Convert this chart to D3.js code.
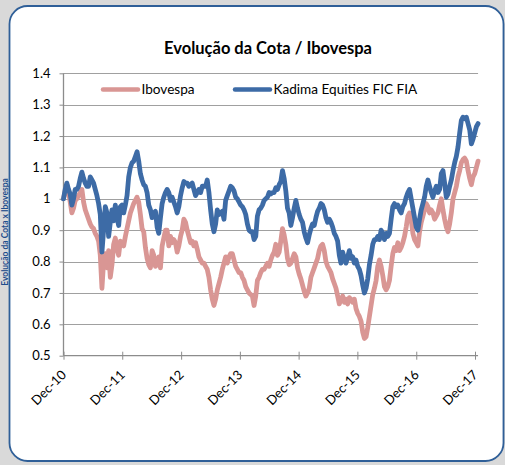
<!DOCTYPE html>
<html>
<head>
<meta charset="utf-8">
<script src="https://cdn.jsdelivr.net/npm/d3@7"></script>
<style>
  body { margin: 0; background: #d9d9d9; }
  svg { display: block; font-family: Lato, "Open Sans", sans-serif; }
</style>
</head>
<body>
<svg></svg>
<script>
// Kadima Equities FIC FIA vs Ibovespa, base 1.0 in Dec-10 (about 3 readings per month)
const kadima = [
  1.00, 1.03, 1.05, 1.03, 1.015, 0.98, 1.00, 1.03, 1.03, 1.04,
  1.065, 1.085, 1.065, 1.05, 1.04, 1.04, 1.07, 1.06, 1.05, 1.03,
  1.01, 0.985, 0.95, 0.83, 0.90, 0.975, 0.955, 0.88, 0.925, 0.965,
  0.93, 0.98, 0.94, 0.915, 0.975, 0.98, 0.955, 0.98, 1.01, 1.07,
  1.10, 1.115, 1.12, 1.135, 1.15, 1.12, 1.08, 1.06, 1.045, 1.04,
  1.02, 0.98, 0.965, 0.94, 0.955, 0.96, 0.91, 0.89, 0.94, 0.985,
  1.005, 1.02, 1.03, 1.02, 0.995, 1.005, 0.99, 0.975, 0.955, 0.975,
  1.01, 1.035, 1.055, 1.05, 1.05, 1.04, 1.045, 1.05, 1.03, 1.01,
  1.02, 1.03, 1.02, 1.04, 1.04, 1.04, 1.06, 1.02, 0.965, 0.92,
  0.895, 0.92, 0.965, 0.95, 0.955, 0.96, 0.935, 0.995, 1.01, 1.025,
  1.04, 1.035, 1.025, 1.005, 1.0, 0.99, 0.98, 0.975, 0.965, 0.95,
  0.92, 0.9, 0.895, 0.895, 0.87, 0.88, 0.945, 0.965, 0.97, 0.98,
  0.995, 1.0, 1.005, 1.02, 1.015, 1.02, 1.02, 1.035, 1.03, 1.045,
  1.055, 1.09, 1.065, 1.025, 0.97, 0.955, 0.915, 0.94, 0.97, 0.995,
  0.97, 0.95, 0.935, 0.925, 0.895, 0.875, 0.86, 0.885, 0.905, 0.92,
  0.915, 0.94, 0.96, 0.97, 0.985, 0.98, 0.965, 0.94, 0.925, 0.935,
  0.925, 0.91, 0.89, 0.88, 0.865, 0.82, 0.795, 0.83, 0.81, 0.795,
  0.815, 0.835, 0.81, 0.815, 0.795, 0.805, 0.785, 0.775, 0.755, 0.725,
  0.70, 0.715, 0.745, 0.79, 0.82, 0.855, 0.87, 0.87, 0.88, 0.87,
  0.9, 0.89, 0.87, 0.89, 0.88, 0.89, 0.935, 0.975, 0.985, 0.975,
  0.98, 0.965, 0.955, 0.975, 0.985, 1.005, 1.02, 1.03, 1.0, 0.97,
  0.94, 0.91, 0.90, 0.935, 0.965, 0.985, 1.005, 1.04, 1.06, 1.04,
  1.02, 1.005, 1.025, 1.04, 1.02, 1.03, 1.08, 1.09, 1.05, 1.005,
  1.015, 1.04, 1.06, 1.09, 1.115, 1.135, 1.165, 1.21, 1.25, 1.26,
  1.255, 1.26, 1.24, 1.22, 1.175, 1.19, 1.21, 1.23, 1.24
];

const ibovespa = [
  1.0, 1.025, 1.045, 1.02, 0.99, 0.955, 0.97, 0.995, 1.0, 1.01,
  1.02, 1.03, 0.99, 0.965, 0.95, 0.935, 0.92, 0.91, 0.905, 0.89,
  0.88, 0.865, 0.82, 0.715, 0.80, 0.825, 0.78, 0.835, 0.75, 0.79,
  0.855, 0.875, 0.84, 0.82, 0.865, 0.86, 0.85, 0.88, 0.905, 0.93,
  0.955, 0.97, 0.985, 0.995, 1.005, 0.99, 0.95, 0.905, 0.895, 0.845,
  0.81, 0.79, 0.78, 0.835, 0.82, 0.785, 0.79, 0.815, 0.78, 0.85,
  0.875, 0.90, 0.90, 0.85, 0.88, 0.86, 0.87, 0.86, 0.83, 0.85,
  0.88, 0.90, 0.935, 0.925, 0.90, 0.88, 0.86, 0.865, 0.85, 0.86,
  0.84, 0.815, 0.805, 0.795, 0.795, 0.785, 0.775, 0.75, 0.71, 0.68,
  0.66, 0.68, 0.71, 0.73, 0.75, 0.775, 0.795, 0.815, 0.795, 0.815,
  0.825, 0.825, 0.805, 0.785, 0.775, 0.765, 0.765, 0.75, 0.74, 0.72,
  0.71, 0.70, 0.695, 0.69, 0.66, 0.69, 0.74, 0.75, 0.765, 0.775,
  0.775, 0.785, 0.795, 0.785, 0.805, 0.82, 0.83, 0.855, 0.82, 0.83,
  0.865, 0.905, 0.885, 0.855, 0.81, 0.79, 0.795, 0.81, 0.825, 0.815,
  0.78, 0.76, 0.745, 0.725, 0.705, 0.69, 0.70, 0.715, 0.75, 0.765,
  0.78, 0.795, 0.81, 0.835, 0.85, 0.855, 0.835, 0.80, 0.785, 0.775,
  0.765, 0.745, 0.73, 0.715, 0.69, 0.665, 0.68, 0.69, 0.67, 0.68,
  0.665, 0.685, 0.68, 0.67, 0.68, 0.65, 0.635, 0.625, 0.61, 0.575,
  0.555, 0.56, 0.59, 0.625, 0.66, 0.695, 0.715, 0.74, 0.785, 0.805,
  0.785, 0.755, 0.72, 0.71, 0.72, 0.74, 0.785, 0.825, 0.845, 0.835,
  0.86, 0.835, 0.845, 0.86, 0.88, 0.91, 0.945, 0.955, 0.935, 0.89,
  0.87, 0.86, 0.85, 0.895, 0.925, 0.945, 0.965, 0.985, 0.975, 0.955,
  0.965, 0.955, 0.935, 0.945, 0.955, 0.98, 1.0, 0.965, 0.935, 0.91,
  0.895, 0.92, 0.955, 1.0, 1.02, 1.04, 1.07, 1.09, 1.115, 1.125,
  1.13, 1.12, 1.09, 1.065, 1.045, 1.07, 1.08, 1.10, 1.12
];

const firstDate = new Date(2010, 11, 1),
      lastDate = new Date(2017, 11, 20);

const tickDates = [2010, 2011, 2012, 2013, 2014, 2015, 2016, 2017].map((y) => new Date(y, 11, 1));
const tickLabels = ['Dec-10', 'Dec-11', 'Dec-12', 'Dec-13', 'Dec-14', 'Dec-15', 'Dec-16', 'Dec-17'];
const yTicks = [0.5, 0.6, 0.7, 0.8, 0.9, 1.0, 1.1, 1.2, 1.3, 1.4];

const seriesNames = ['Ibovespa', 'Kadima Equities FIC FIA'];
const seriesColors = ['#d99694', '#3d6ba6'];

const dates = kadima.map((v, i) => new Date(+firstDate + i * (lastDate - firstDate) / (kadima.length - 1)));

const width = 505,
      height = 465;

const x = d3.scaleTime()
            .domain([tickDates[0], tickDates[tickDates.length - 1]])
            .range([63.5, 475]);

const y = d3.scaleLinear()
            .domain([0.5, 1.4])
            .range([355.7, 73.3]);

const svg = d3.select('svg')
    .attr('width', width)
    .attr('height', height);

// small side label in the grey strip left of the panel
svg.append('text')
    .attr('transform', 'translate(7.5, 232) rotate(-90)')
    .attr('text-anchor', 'middle')
    .attr('font-size', 8.5)
    .attr('font-weight', 'bold')
    .attr('fill', '#1f4e8c')
    .text('Evolução da Cota x Ibovespa');

svg.append('rect')
    .attr('x', 9.5)
    .attr('y', 6)
    .attr('width', 494)
    .attr('height', 455)
    .attr('rx', 18)
    .attr('fill', '#fff')
    .attr('stroke', '#2f5f98')
    .attr('stroke-width', 1.8);

svg.append('text')
    .attr('x', 268)
    .attr('y', 54)
    .attr('text-anchor', 'middle')
    .attr('font-size', 16.5)
    .attr('font-weight', 'bold')
    .text('Evolução da Cota / Ibovespa');

const xEnd = x(lastDate);

// grid
svg.append('g')
  .selectAll('line')
  .data(yTicks.slice(1))
  .enter()
  .append('line')
    .attr('x1', x.range()[0])
    .attr('x2', xEnd)
    .attr('y1', (d) => Math.round(y(d)) + 0.5)
    .attr('y2', (d) => Math.round(y(d)) + 0.5)
    .attr('stroke', '#a0a0a0')
    .attr('stroke-width', 1.2);

// y axis
const yAxis = svg.append('g')
    .attr('transform', `translate(${x.range()[0]}, 0)`)
    .call(d3.axisLeft(y)
      .tickValues(yTicks)
      .tickSize(4)
      .tickPadding(9)
      .tickFormat((d) => +d.toFixed(1)));

yAxis.select('.domain')
    .attr('d', `M0,${y(0.5)}V${y(1.4)}`)
    .attr('stroke', '#8c8c8c')
    .attr('stroke-width', 1.3);
yAxis.selectAll('.tick line').attr('stroke', '#8c8c8c');
yAxis.selectAll('.tick text')
    .attr('font-family', 'Lato, sans-serif')
    .attr('font-size', 13)
    .attr('fill', '#000');

// x axis
const xAxis = svg.append('g')
    .attr('transform', `translate(0, ${y(0.5)})`)
    .call(d3.axisBottom(x)
      .tickValues(tickDates)
      .tickSize(4)
      .tickFormat(''));

xAxis.select('.domain')
    .attr('d', `M${x.range()[0]},0H${xEnd}`)
    .attr('stroke', '#8c8c8c')
    .attr('stroke-width', 1.3);
xAxis.selectAll('.tick line')
    .attr('y1', -4)
    .attr('stroke', '#8c8c8c');

svg.append('g')
  .selectAll('text')
  .data(tickDates)
  .enter()
  .append('text')
    .attr('transform', (d) => `translate(${x(d) + 3.5}, ${y(0.5) + 20}) rotate(-45)`)
    .attr('text-anchor', 'end')
    .attr('font-size', 13)
    .text((d, i) => tickLabels[i]);

// lines
const line = d3.line()
               .x((d, i) => x(dates[i]))
               .y((d) => y(d));

[ibovespa, kadima].forEach((series, i) => {
  svg.append('path')
      .datum(series)
      .attr('d', line)
      .attr('fill', 'none')
      .attr('stroke', seriesColors[i])
      .attr('stroke-width', 4.8)
      .attr('stroke-linejoin', 'round')
      .attr('stroke-linecap', 'round');
});

// legend
const legendX = [103, 235];

const legend = svg.append('g')
  .selectAll('g')
  .data(seriesNames)
  .enter()
  .append('g')
    .attr('transform', (d, i) => `translate(${legendX[i]}, 89.5)`);

legend.append('line')
    .attr('x1', 0)
    .attr('x2', 35)
    .attr('stroke', (d, i) => seriesColors[i])
    .attr('stroke-width', 4.5)
    .attr('stroke-linecap', 'round');

legend.append('text')
    .attr('x', 38.5)
    .attr('y', 4.5)
    .attr('font-size', 13.6)
    .text((d) => d);
</script>
</body>
</html>
